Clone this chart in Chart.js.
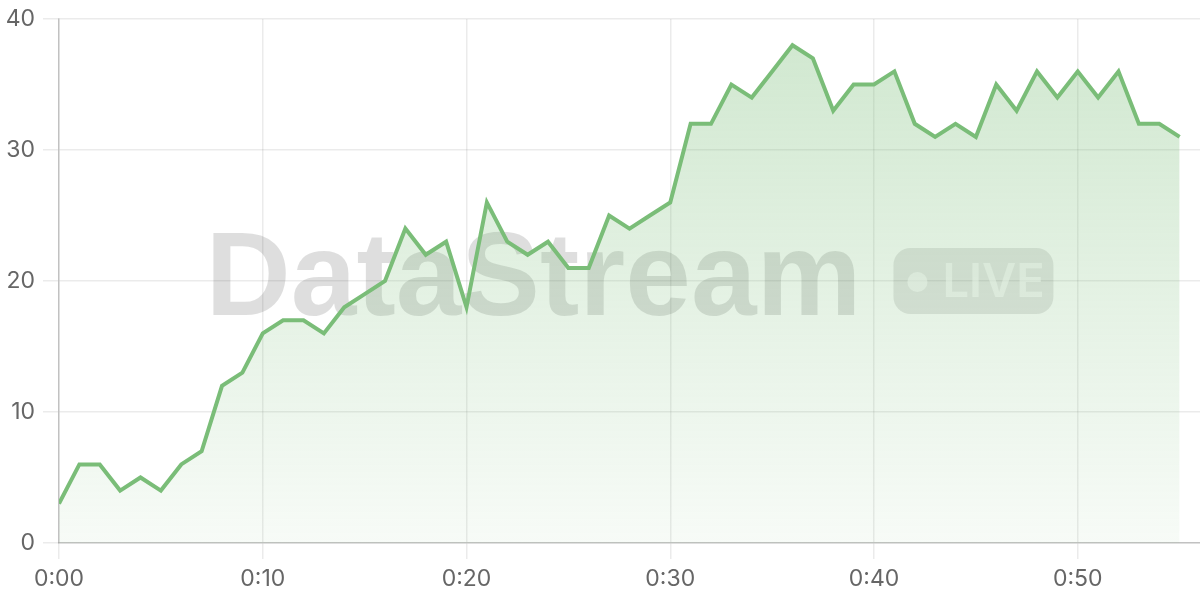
<!DOCTYPE html>
<html>
<head>
<meta charset="utf-8">
<script src="https://cdn.jsdelivr.net/npm/chart.js@4.4.0/dist/chart.umd.min.js"></script>
<style>
  html, body { margin: 0; padding: 0; background: #fff; }
  #wrap { width: 1200px; height: 600px; }
</style>
</head>
<body>
<div id="wrap"><canvas id="streamChart" width="1200" height="600"></canvas></div>
<script>
// minutes elapsed, one reading per minute
const minutes = [
  0, 1, 2, 3, 4, 5, 6, 7, 8, 9, 10, 11, 12, 13, 14, 15, 16, 17, 18, 19,
  20, 21, 22, 23, 24, 25, 26, 27, 28, 29, 30, 31, 32, 33, 34, 35, 36, 37, 38, 39,
  40, 41, 42, 43, 44, 45, 46, 47, 48, 49, 50, 51, 52, 53, 54, 55,
];
const values = [
  3, 6, 6, 4, 5, 4, 6, 7, 12, 13, 16, 17, 17, 16, 18, 19, 20, 24, 22, 23,
  18, 26, 23, 22, 23, 21, 21, 25, 24, 25, 26, 32, 32, 35, 34, 36, 38, 37, 33, 35,
  35, 36, 32, 31, 32, 31, 35, 33, 36, 34, 36, 34, 36, 32, 32, 31,
];
const xTickLabels = ["0:00", "0:10", "0:20", "0:30", "0:40", "0:50"];
const yTickLabels = ["0", "10", "20", "30", "40"];

const GREEN = "rgb(122, 189, 120)";

const watermark = {
  id: "watermark",
  beforeDatasetsDraw(chart) {
    const { ctx, chartArea: a } = chart;
    const cx = (a.left + a.right) / 2;
    const cy = (a.top + a.bottom) / 2;
    ctx.save();
    ctx.font = "bold 118px 'Liberation Sans', Arial, sans-serif";
    const tw = ctx.measureText("DataStream").width;
    const gap = 32, pillW = 160, pillH = 66;
    const x0 = cx - (tw + gap + pillW) / 2;
    ctx.fillStyle = "rgba(0, 0, 0, 0.13)";
    ctx.textBaseline = "alphabetic";
    ctx.fillText("DataStream", x0, cy + 34);

    // LIVE pill
    const px = x0 + tw + gap, py = cy - pillH / 2;
    ctx.beginPath();
    ctx.roundRect(px, py, pillW, pillH, 17);
    ctx.fillStyle = "rgba(0, 0, 0, 0.1)";
    ctx.fill();
    ctx.fillStyle = "rgba(255, 255, 255, 0.6)";
    ctx.beginPath();
    ctx.arc(px + 24, cy + 1, 10, 0, Math.PI * 2);
    ctx.fill();
    ctx.font = "600 47px Inter, sans-serif";
    ctx.textBaseline = "middle";
    ctx.fillText("LIVE", px + 49, cy + 2);
    ctx.restore();
  },
};

const ctx = document.getElementById("streamChart").getContext("2d");
const streamChart = new Chart(ctx, {
  type: "line",
  data: {
    datasets: [
      {
        data: values.map((v, i) => ({ x: minutes[i], y: v })),
        borderColor: GREEN,
        borderWidth: 4,
        pointRadius: 0,
        tension: 0,
        fill: "origin",
        backgroundColor: (c) => {
          const area = c.chart.chartArea;
          if (!area) return "rgba(122, 189, 120, 0.2)";
          const g = c.chart.ctx.createLinearGradient(0, area.top, 0, area.bottom);
          g.addColorStop(0, "rgba(122, 189, 120, 0.36)");
          g.addColorStop(1, "rgba(122, 189, 120, 0.06)");
          return g;
        },
      },
    ],
  },
  options: {
    responsive: false,
    animation: false,
    layout: { padding: { top: 19, right: 0, bottom: 0, left: 0 } },
    scales: {
      x: {
        type: "linear",
        min: 0,
        max: 56,
        grid: { color: "rgba(0, 0, 0, 0.08)", tickLength: 16, lineWidth: 1.5 },
        border: { color: "rgba(0, 0, 0, 0.18)", width: 1.5 },
        ticks: {
          stepSize: 10,
          includeBounds: false,
          padding: 6,
          maxRotation: 0,
          color: "#666",
          font: { size: 23, family: "Inter" },
          callback: (value) => xTickLabels[value / 10],
        },
        afterFit: (s) => { s.height = 57; },
      },
      y: {
        min: 0,
        max: 40,
        grid: { color: "rgba(0, 0, 0, 0.08)", tickLength: 16, lineWidth: 1.5 },
        border: { color: "rgba(0, 0, 0, 0.18)", width: 1.5 },
        ticks: {
          stepSize: 10,
          padding: 8,
          color: "#666",
          font: { size: 23, family: "Inter" },
          callback: (value) => yTickLabels[value / 10],
        },
        afterFit: (s) => {
          s.width = 59;
          s.paddingTop = 0;
          s.paddingBottom = 0;
        },
      },
    },
    plugins: {
      legend: { display: false },
      tooltip: { enabled: false },
    },
  },
  plugins: [watermark],
});
</script>
</body>
</html>
